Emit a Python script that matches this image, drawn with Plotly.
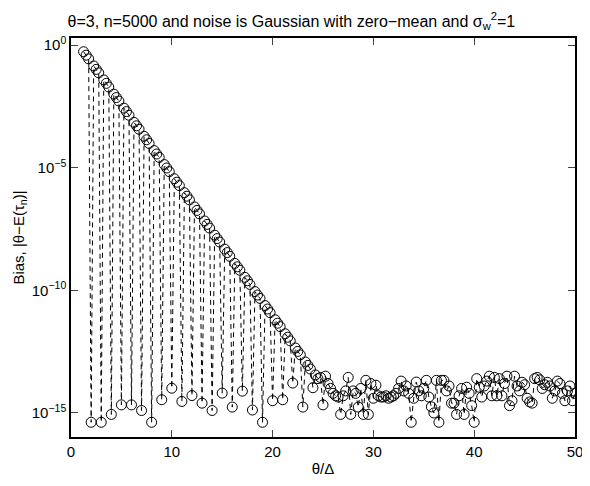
import plotly.graph_objects as go

# theta / Delta sample points
theta_over_delta = [
    1.25, 1.5, 1.75, 2, 2.25, 2.5, 2.75, 3, 3.25, 3.5, 3.75, 4,
    4.25, 4.5, 4.75, 5, 5.25, 5.5, 5.75, 6, 6.25, 6.5, 6.75, 7,
    7.25, 7.5, 7.75, 8, 8.25, 8.5, 8.75, 9, 9.25, 9.5, 9.75, 10,
    10.25, 10.5, 10.75, 11, 11.25, 11.5, 11.75, 12, 12.25, 12.5, 12.75, 13,
    13.25, 13.5, 13.75, 14, 14.25, 14.5, 14.75, 15, 15.25, 15.5, 15.75, 16,
    16.25, 16.5, 16.75, 17, 17.25, 17.5, 17.75, 18, 18.25, 18.5, 18.75, 19,
    19.25, 19.5, 19.75, 20, 20.25, 20.5, 20.75, 21, 21.25, 21.5, 21.75, 22,
    22.25, 22.5, 22.75, 23, 23.25, 23.5, 23.75, 24, 24.25, 24.5, 24.75, 25,
    25.25, 25.5, 25.75, 26, 26.25, 26.5, 26.75, 27, 27.25, 27.5, 27.75, 28,
    28.25, 28.5, 28.75, 29, 29.25, 29.5, 29.75, 30, 30.25, 30.5, 30.75, 31,
    31.25, 31.5, 31.75, 32, 32.25, 32.5, 32.75, 33, 33.25, 33.5, 33.75, 34,
    34.25, 34.5, 34.75, 35, 35.25, 35.5, 35.75, 36, 36.25, 36.5, 36.75, 37,
    37.25, 37.5, 37.75, 38, 38.25, 38.5, 38.75, 39, 39.25, 39.5, 39.75, 40,
    40.25, 40.5, 40.75, 41, 41.25, 41.5, 41.75, 42, 42.25, 42.5, 42.75, 43,
    43.25, 43.5, 43.75, 44, 44.25, 44.5, 44.75, 45, 45.25, 45.5, 45.75, 46,
    46.25, 46.5, 46.75, 47, 47.25, 47.5, 47.75, 48, 48.25, 48.5, 48.75, 49,
    49.25, 49.5, 49.75, 50,
]

# log10 of the bias |theta - E(tau_n)|
bias_log10 = [
    -0.27, -0.41, -0.56, -15.38, -0.85, -0.99, -1.13, -15.38, -1.42, -1.56, -1.71, -15.06,
    -2.00, -2.14, -2.28, -14.67, -2.57, -2.71, -2.86, -14.67, -3.15, -3.29, -3.43, -14.90,
    -3.72, -3.86, -4.01, -15.38, -4.30, -4.44, -4.58, -14.46, -4.87, -5.01, -5.16, -13.99,
    -5.45, -5.59, -5.73, -14.53, -6.02, -6.16, -6.31, -14.29, -6.60, -6.74, -6.88, -14.60,
    -7.17, -7.31, -7.46, -14.90, -7.75, -7.89, -8.03, -14.19, -8.32, -8.46, -8.61, -14.76,
    -8.90, -9.04, -9.18, -14.11, -9.47, -9.61, -9.76, -14.88, -10.05, -10.19, -10.33, -15.38,
    -10.62, -10.76, -10.91, -14.50, -11.20, -11.34, -11.48, -14.46, -11.77, -11.91, -12.06, -13.78,
    -12.35, -12.49, -12.63, -14.76, -12.92, -13.06, -13.21, -13.97, -13.45, -13.60, -13.55, -14.67,
    -13.5, -13.8, -14.0, -14.2, -14.3, -14.35, -15.06, -14.3, -14.1, -13.55, -15.06, -14.1,
    -14.2, -14.76, -14.0, -15.06, -13.67, -15.06, -13.8, -14.4, -13.87, -14.3, -14.35, -14.35,
    -14.3, -14.4, -14.35, -14.3, -14.2, -14.0, -13.7, -14.1, -13.9, -14.2, -15.38, -14.4,
    -13.74, -14.1, -14.3, -14.0, -13.67, -14.35, -14.75, -15.0, -13.67, -15.38, -13.67, -13.67,
    -14.1, -13.9, -14.6, -14.6, -15.06, -14.3, -14.0, -15.06, -13.95, -14.2, -14.7, -15.38,
    -13.6, -13.95, -14.35, -13.9, -13.7, -13.5, -14.3, -13.55, -14.3, -13.6, -14.3, -13.8,
    -13.5, -14.7, -14.5, -13.5, -13.9, -14.1, -13.75, -13.85, -14.4, -14.55, -14.6, -13.6,
    -13.55, -13.65, -14.0, -13.85, -13.75, -13.9, -14.4, -14.1, -13.7, -13.8, -14.2, -14.5,
    -14.1, -13.9, -14.5, -14.2,
]
bias = [10 ** v for v in bias_log10]

x_tick_vals = [0, 10, 20, 30, 40, 50]
y_tick_vals = [1, 1e-5, 1e-10, 1e-15]
y_tick_text = ["10<sup>0</sup>", "10<sup>−5</sup>", "10<sup>−10</sup>", "10<sup>−15</sup>"]

FONT = "Liberation Sans, Arial, Helvetica, sans-serif"

fig = go.Figure()
fig.add_trace(go.Scatter(
    x=theta_over_delta, y=bias, mode="lines+markers",
    line=dict(color="black", width=1, dash="5px,4px"),
    marker=dict(symbol="circle-open", size=10, color="black", line=dict(width=1, color="black")),
    showlegend=False,
))

# the page body has an 8px margin: the figure is sized so it fits the 590x486 window
fig.update_layout(
    width=582, height=478,
    margin=dict(l=63, r=7, t=30, b=49),
    paper_bgcolor="white", plot_bgcolor="white",
    font=dict(family=FONT, size=15, color="black"),
    title=dict(
        text="θ=3, n=5000 and noise is Gaussian with zero−mean and σ<sub>w</sub><sup>2</sup>=1",
        x=0.487, xanchor="center", y=0.972, yanchor="middle",
        font=dict(family=FONT, size=16, color="black"),
    ),
    xaxis=dict(
        range=[0, 50], tickvals=x_tick_vals, ticks="inside", ticklen=7, tickwidth=1,
        showline=True, linecolor="black", linewidth=1.5, mirror="ticks",
        showgrid=False, zeroline=False,
        title=dict(text="θ/Δ", standoff=5, font=dict(size=15)),
        tickfont=dict(size=15),
    ),
    yaxis=dict(
        type="log", range=[-15.98, 0.29], tickvals=y_tick_vals, ticktext=y_tick_text,
        ticks="inside", ticklen=7, tickwidth=1,
        showline=True, linecolor="black", linewidth=1.5, mirror="ticks",
        showgrid=False, zeroline=False,
        title=dict(text="Bias, |θ−E(τ<sub>n</sub>)|", standoff=4, font=dict(size=15)),
        tickfont=dict(size=15),
    ),
)

fig.write_html("out.html")
